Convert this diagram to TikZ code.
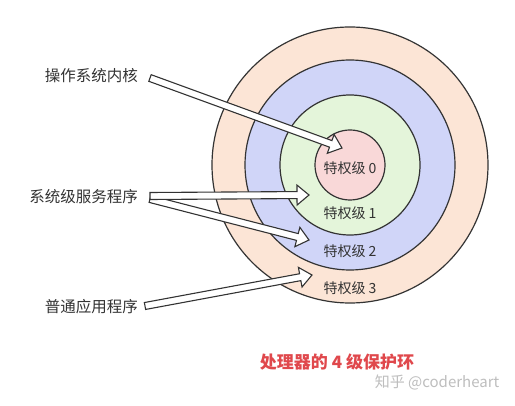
\documentclass[tikz,border=0pt]{standalone}
\usepackage{fontspec}
\setmainfont{Noto Sans CJK SC}
\usetikzlibrary{calc}
\definecolor{ringA}{RGB}{249,216,216}
\definecolor{ringB}{RGB}{228,245,218}
\definecolor{ringC}{RGB}{208,213,248}
\definecolor{ringD}{RGB}{252,229,214}
\definecolor{inkc}{RGB}{51,51,51}
\definecolor{titlered}{RGB}{224,72,76}
\definecolor{markgray}{RGB}{190,190,190}
\newcommand\hollowarrow[2]{%
  \coordinate (hb) at ($(#2)!12pt!(#1)$);
  \draw[arrowbox] ($(#1)!3.5pt!90:(#2)$) -- ($(hb)!3.5pt!90:(#2)$) -- ($(hb)!10pt!90:(#2)$) -- (#2)
    -- ($(hb)!10pt!-90:(#2)$) -- ($(hb)!3.5pt!-90:(#2)$) -- ($(#1)!3.5pt!-90:(#2)$) -- cycle;}
\begin{document}
\begin{tikzpicture}[x=1pt,y=-1pt,
  ring/.style={circle,draw=inkc,line width=1.2pt,inner sep=0pt},
  arrowbox/.style={draw=inkc,fill=white,line width=1.1pt,line join=miter},
  lvl/.style={text=inkc,font=\fontsize{14}{16}\selectfont,inner sep=0pt},
  lefttext/.style={text=inkc,font=\fontsize{15.5}{18}\selectfont,inner sep=0pt,anchor=east}]
\useasboundingbox (0,0) rectangle (515,406);
\fill[white] (0,0) rectangle (515,406);
\node[ring,fill=ringD,minimum size=276pt] (r3) at (350,165) {};
\node[ring,fill=ringC,minimum size=210pt] (r2) at (350,165) {};
\node[ring,fill=ringB,minimum size=140pt] (r1) at (350,165) {};
\node[ring,fill=ringA,minimum size=70pt] (r0) at (350,165) {};
\node[lefttext] (t0) at (138,76) {操作系统内核};
\node[lefttext] (t1) at (138,197) {系统级服务程序};
\node[lefttext] (t2) at (138,307) {普通应用程序};
\coordinate (a0) at (150,78);
\coordinate (a1) at (150,196);
\coordinate (a2) at (150,199);
\coordinate (a3) at (145,306);
\coordinate (b0) at (342,148);
\coordinate (b1) at (309,195);
\coordinate (b2) at (309,240);
\coordinate (b3) at (312,275);
\hollowarrow{a0}{b0}
\hollowarrow{a2}{b2}
\hollowarrow{a1}{b1}
\hollowarrow{a3}{b3}
\node[lvl] (l0) at (350,168) {特权级 0};
\node[lvl] (l1) at (350,213) {特权级 1};
\node[lvl] (l2) at (350,251) {特权级 2};
\node[lvl] (l3) at (350,288) {特权级 3};
\node[text=titlered,font=\fontsize{17}{20}\selectfont\bfseries,inner sep=0pt] (title) at (337,362) {处理器的 4 级保护环};
\node[text=markgray,font=\fontsize{15}{18}\selectfont,inner sep=0pt] (mark) at (437,382) {知乎 @coderheart};
\end{tikzpicture}
\end{document}
